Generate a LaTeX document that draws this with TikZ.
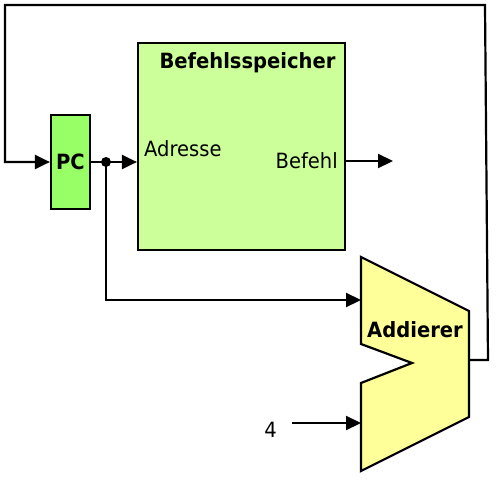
\documentclass[tikz,border=0pt]{standalone}
\usepackage{fontspec}
\setmainfont[FakeStretch=0.93]{DejaVu Sans}
\usetikzlibrary{arrows.meta}
\definecolor{pcgruen}{HTML}{99FF66}
\definecolor{speichergruen}{HTML}{CCFF99}
\definecolor{addgelb}{HTML}{FFFF99}
\tikzset{
  block/.style={draw, line width=2.2pt, inner sep=0pt},
  schrift/.style={font=\fontsize{21}{24}\selectfont, inner sep=0pt},
  titel/.style={font=\fontsize{21}{24}\selectfont\bfseries, inner sep=0pt},
  leitung/.style={line width=2.2pt}
}
\begin{document}
\begin{tikzpicture}[x=1pt,y=-1pt,>={Triangle[length=15pt,width=14pt]}]
\useasboundingbox (0,0) rectangle (499,480);

%Befehlsspeicher
\node[block, fill=speichergruen, minimum width=207pt, minimum height=207pt] (speicher) at (241.5,146.5) {};
\node[titel] (speichertitel) at (247.5,63) {Befehlsspeicher};
\node[schrift, anchor=west] (adresse) at (144,149) {Adresse};
\node[schrift, anchor=east] (befehl) at (338,161) {Befehl};

%PC
\node[block, fill=pcgruen, minimum width=39pt, minimum height=94pt, font=\fontsize{21}{24}\selectfont\bfseries] (pc) at (70.5,162) {PC};

%Addierer
\filldraw[fill=addgelb, line width=2.2pt, line join=miter] (361,257) -- (469,311) -- (469,417) -- (361,471) -- (361,383) -- (412,363) -- (361,344) -- cycle;
\node[titel] (addierer) at (415,330) {Addierer};
\coordinate (einA) at (361,300);
\coordinate (einB) at (361,423);
\coordinate (aus) at (469,360);

%Konstante 4
\node[schrift] (vier) at (270.5,430) {4};
\coordinate (vierstart) at (292,423);

%Verbindungen
\coordinate (punkt) at (106,162);
\coordinate (befehlende) at (393,161);
\draw[leitung,->] (pc.east) -- (pc.east -| speicher.west);
\fill (punkt) circle (5pt);
\draw[leitung,->] (punkt) |- (einA);
\draw[leitung,->] (vierstart) -- (einB);
\draw[leitung,->] (speicher.east |- befehlende) -- (befehlende);
\draw[leitung,->] (aus) -- (488,360) -- (485,5) -- (5,5) -- (5,162) -- (pc.west);

\end{tikzpicture}
\end{document}
